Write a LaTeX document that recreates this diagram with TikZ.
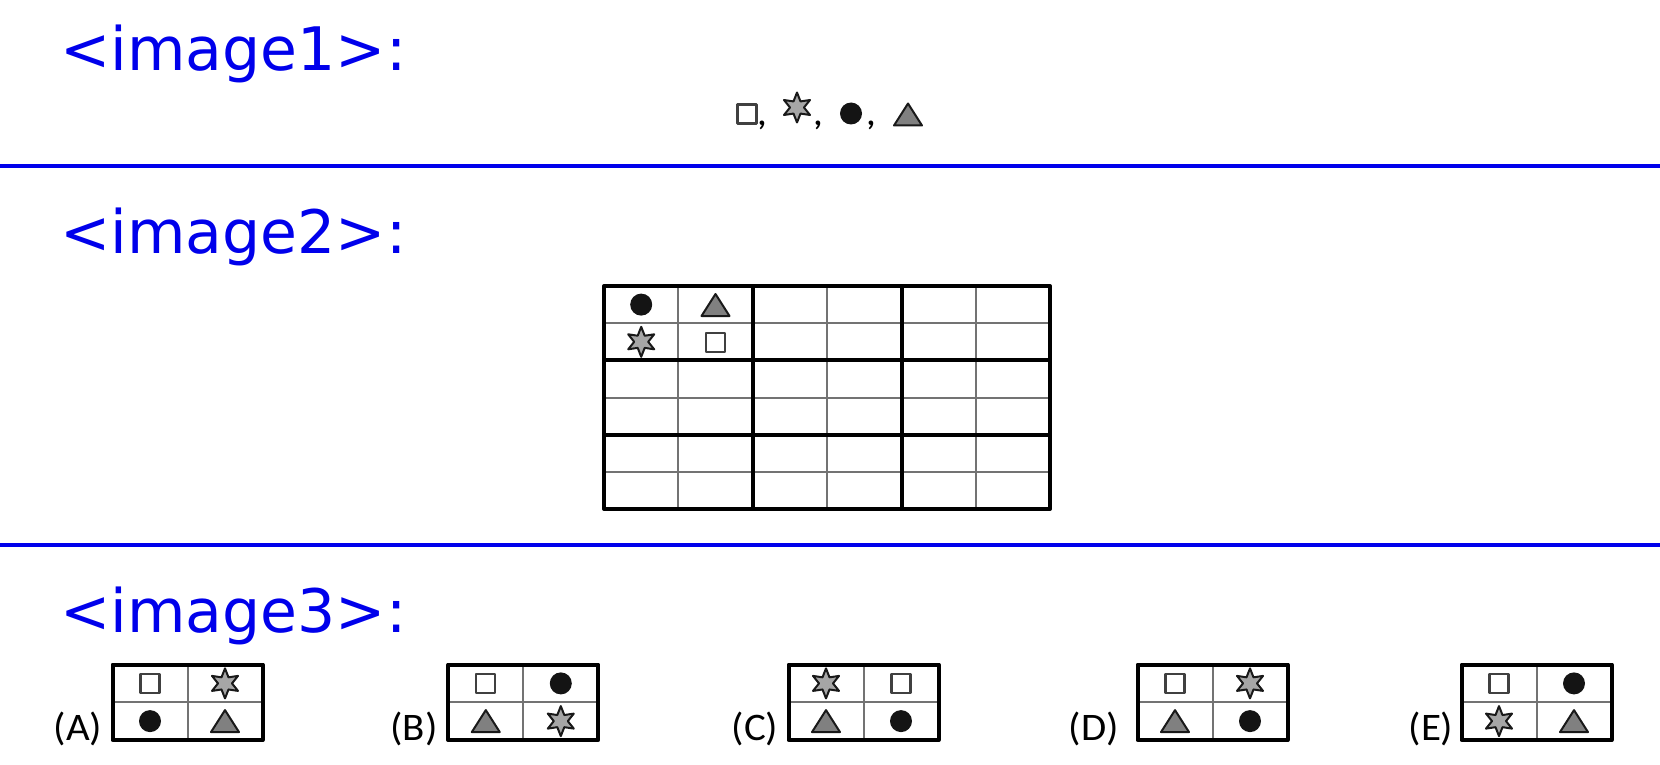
\documentclass[tikz,border=0pt]{standalone}
\usepackage{fontspec}
\usepackage{graphicx}
\setmainfont{DejaVu Sans}
\newfontfamily\optfont{Carlito}
\definecolor{headblue}{RGB}{0,0,235}

\begin{document}
\begin{tikzpicture}[x=0.5pt,y=-0.5pt,line join=round,
  headtxt/.style={anchor=base west,inner sep=0pt,text=headblue,font=\fontsize{30pt}{36pt}\selectfont},
  optlabel/.style={anchor=base,inner sep=0pt,font=\optfont\fontsize{19.5pt}{22pt}\selectfont},
  commatxt/.style={anchor=base,inner sep=0pt,font=\optfont\bfseries\fontsize{16pt}{18pt}\selectfont},
  seprule/.style={headblue,line width=2.2pt},
  boxframe/.style={line width=2pt},
  cellline/.style={black!55,line width=1pt},
  sqr/.pic={\draw[black!75,fill=white,line width=1.1pt] (-9.5,-9.5) rectangle (9.5,9.5);},
  dot/.pic={\fill[black!92] (0,0) circle[radius=11];},
  tri/.pic={\draw[black!90,fill=black!50,line width=1pt] (-14,11) -- (14,11) -- (0,-11) -- cycle;},
  hexstar/.pic={\draw[black!90,fill=black!35,line width=1pt]
    (90:15) -- (120:7) -- (150:15) -- (180:7) -- (210:15) -- (240:7)
    -- (270:15) -- (300:7) -- (330:15) -- (0:7) -- (30:15) -- (60:7) -- cycle;},
  pics/optbox/.style n args={4}{code={
    \draw[cellline] (75,0) -- (75,75.5) (0,37.75) -- (150,37.75);
    \draw[boxframe] (0,0) rectangle (150,75.5);
    \pic at (37.5,18.9) {#1};
    \pic at (112.5,18.9) {#2};
    \pic at (37.5,56.6) {#3};
    \pic at (112.5,56.6) {#4};
  }}]
  % Keep the page at the size of the original screenshot.
  \useasboundingbox (0,0) rectangle (1660,765);

  % Section headings and the two blue separators.
  \node[headtxt] (t1) at (60,71) {<image1>:};
  \node[headtxt] (t2) at (60,253) {<image2>:};
  \node[headtxt] (t3) at (60,632) {<image3>:};
  \coordinate (r1w) at (0,166);
  \coordinate (r1e) at (1660,166);
  \coordinate (r2w) at (0,545);
  \coordinate (r2e) at (1660,545);
  \draw[seprule] (r1w) -- (r1e);
  \draw[seprule] (r2w) -- (r2e);

  % The four symbols, separated by commas.
  \pic at (747,114) {sqr};
  \node[commatxt] (c1) at (762,126) {,};
  \pic at (797,107.5) {hexstar};
  \node[commatxt] (c2) at (818,126) {,};
  \pic at (851,113.5) {dot};
  \node[commatxt] (c3) at (871,126) {,};
  \pic at (908,114.5) {tri};

  % Six by six grid, split into blocks of two by two.
  \foreach \k in {1,...,5} {
    \draw[cellline] (604+74.33*\k,286) -- (604+74.33*\k,509);
    \draw[cellline] (604,286+37.17*\k) -- (1050,286+37.17*\k);
  }
  \draw[boxframe] (752.7,286) -- (752.7,509) (901.7,286) -- (901.7,509);
  \draw[boxframe] (604,360.3) -- (1050,360.3) (604,434.7) -- (1050,434.7);
  \draw[boxframe] (604,286) rectangle (1050,509);
  \pic at (641.2,304.6) {dot};
  \pic at (715.5,305) {tri};
  \pic at (641.2,341.8) {hexstar};
  \pic at (715.5,342.5) {sqr};

  % Answer choices.
  \node[optlabel] (lA) at (78,740) {\scalebox{1.05}[1]{(A)}};
  \pic at (112.5,664.5) {optbox={sqr}{hexstar}{dot}{tri}};
  \node[optlabel] (lB) at (414,740) {\scalebox{1.05}[1]{(B)}};
  \pic at (448.3,664.5) {optbox={sqr}{dot}{tri}{hexstar}};
  \node[optlabel] (lC) at (755,740) {\scalebox{1.05}[1]{(C)}};
  \pic at (788.5,664.5) {optbox={hexstar}{sqr}{tri}{dot}};
  \node[optlabel] (lD) at (1094,740) {\scalebox{1.05}[1]{(D)}};
  \pic at (1137.5,664.5) {optbox={sqr}{hexstar}{tri}{dot}};
  \node[optlabel] (lE) at (1431,740) {\scalebox{1.05}[1]{(E)}};
  \pic at (1461.5,664.5) {optbox={sqr}{dot}{hexstar}{tri}};
\end{tikzpicture}
\end{document}
